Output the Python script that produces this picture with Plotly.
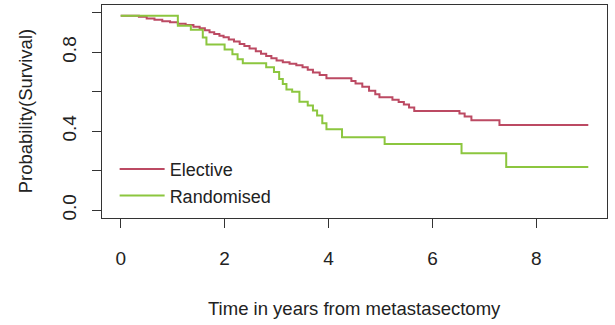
import plotly.graph_objects as go

# Kaplan-Meier step data (time in years, survival probability)
elective_t = [0, 0.35, 0.5, 0.65, 0.8, 0.95, 1.1, 1.25, 1.4, 1.52, 1.62, 1.71, 1.8, 1.9, 1.98,
              2.08, 2.18, 2.29, 2.38, 2.48, 2.6, 2.7, 2.8, 2.9, 3.0, 3.12, 3.25, 3.38, 3.5,
              3.6, 3.7, 3.83, 3.96, 4.44, 4.52, 4.65, 4.78, 4.9, 4.98, 5.23, 5.35, 5.45,
              5.55, 5.65, 6.52, 6.62, 6.75, 7.29, 9.0]
elective_s = [0.985, 0.98, 0.972, 0.965, 0.958, 0.952, 0.945, 0.938, 0.93, 0.922, 0.912, 0.902,
              0.893, 0.884, 0.876, 0.865, 0.855, 0.842, 0.832, 0.82, 0.805, 0.793, 0.782, 0.77,
              0.758, 0.75, 0.742, 0.735, 0.725, 0.712, 0.698, 0.685, 0.668, 0.655, 0.642, 0.625,
              0.605, 0.588, 0.572, 0.56, 0.548, 0.535, 0.52, 0.502, 0.49, 0.475, 0.455, 0.432,
              0.432]

random_t = [0, 1.1, 1.35, 1.58, 1.65, 2.0, 2.15, 2.25, 2.35, 2.8, 2.95, 3.05, 3.12, 3.19, 3.3,
            3.44, 3.6, 3.7, 3.78, 3.88, 3.96, 4.26, 5.08, 6.56, 7.42, 9.0]
random_s = [0.985, 0.935, 0.915, 0.875, 0.84, 0.815, 0.79, 0.765, 0.745, 0.725, 0.70, 0.665,
            0.64, 0.612, 0.60, 0.55, 0.53, 0.505, 0.48, 0.44, 0.41, 0.37, 0.335, 0.288, 0.218,
            0.218]

x_ticks = [0, 2, 4, 6, 8]
y_ticks = [0, 0.2, 0.4, 0.6, 0.8, 1.0]
y_ticktext = ["0.0", "", "0.4", "", "0.8", ""]

series_names = ["Elective", "Randomised"]
colors = ["#BC4A63", "#8CC63F"]

font_family = "Liberation Sans, Arial, sans-serif"

fig = go.Figure()
fig.add_trace(go.Scatter(x=elective_t, y=elective_s, mode="lines", line_shape="hv",
                         name=series_names[0], line=dict(color=colors[0], width=2)))
fig.add_trace(go.Scatter(x=random_t, y=random_s, mode="lines", line_shape="hv",
                         name=series_names[1], line=dict(color=colors[1], width=2)))

axis_common = dict(showgrid=False, zeroline=False, showline=True, mirror=True,
                   linecolor="#333333", linewidth=1, ticks="outside", ticklen=9,
                   tickcolor="#333333", tickwidth=1,
                   tickfont=dict(family=font_family, size=19, color="#222222"))

fig.update_xaxes(range=[-0.36, 9.36], tickvals=x_ticks, ticktext=[str(v) for v in x_ticks],
                 ticklabelstandoff=14, **axis_common)
fig.update_yaxes(range=[-0.04, 1.04], tickvals=y_ticks, ticktext=y_ticktext,
                 tickangle=-90, ticklabelstandoff=8, **axis_common)

fig.update_layout(
    width=615, height=325,
    margin=dict(l=102, r=8, t=5, b=107),
    paper_bgcolor="white", plot_bgcolor="white",
    font=dict(family=font_family, size=18, color="#222222"),
    showlegend=True,
    legend=dict(x=0.025, y=0.315, xanchor="left", yanchor="top",
                bgcolor="rgba(0,0,0,0)", font=dict(size=18), tracegroupgap=0,
                itemwidth=45),
    annotations=[
        dict(text="Time in years from metastasectomy", xref="paper", yref="paper",
             x=0.5, y=-0.427, xanchor="center", yanchor="middle", showarrow=False,
             font=dict(size=18.5)),
        dict(text="Probability(Survival)", xref="paper", yref="paper",
             x=-0.152, y=0.502, xanchor="center", yanchor="middle", showarrow=False,
             textangle=-90, font=dict(size=18.5)),
    ],
)

fig.write_html("out.html")
